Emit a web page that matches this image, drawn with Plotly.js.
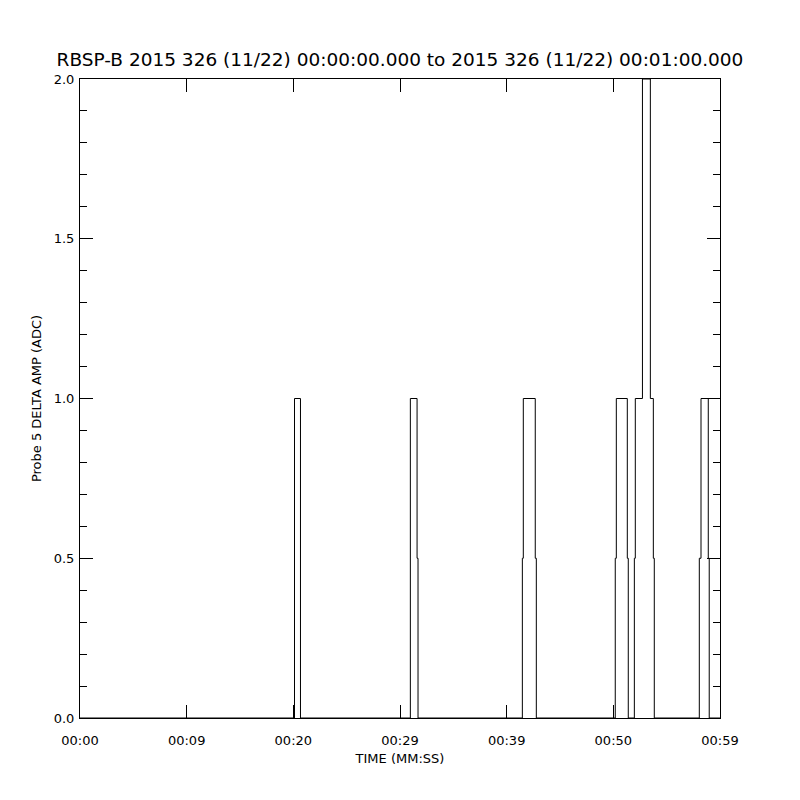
<!DOCTYPE html>
<html>
<head>
<meta charset="utf-8">
<script src="https://cdn.plot.ly/plotly-3.0.1.min.js"></script>
<style>html,body{margin:0;padding:0;background:#fff;}#chart{width:800px;height:800px;}</style>
</head>
<body>
<div id="chart"></div>
<script>
// Step edges: time in seconds from 00:00:00, value held until next edge
const times  = [0, 20.11, 20.67, 30.97, 31.60, 31.69, 41.47, 41.56, 42.68, 42.78,
                50.18, 50.28, 51.31, 51.40, 51.97, 52.06, 52.73, 53.47, 53.75, 53.84,
                58.06, 58.22, 58.90, 58.99, 60];
const values = [0, 1, 0, 1, 0.5, 0, 0.5, 1, 0.5, 0,
                0.5, 1, 0.5, 0, 0.5, 1, 2, 1, 0.5, 0,
                0.5, 1, 0.5, 0, 0];
const xTickVals = [0, 10, 20, 30, 40, 50, 60];
const xTickText = ['00:00', '00:09', '00:20', '00:29', '00:39', '00:50', '00:59'];
const yTickVals = [0, 0.5, 1.0, 1.5, 2.0];
const titleText = 'RBSP-B 2015 326 (11/22) 00:00:00.000 to 2015 326 (11/22) 00:01:00.000';
const xTitle = 'TIME (MM:SS)';
const yTitle = 'Probe 5 DELTA AMP (ADC)';

const font = 'DejaVu Sans, sans-serif';
const trace = {
  x: times, y: values, type: 'scatter', mode: 'lines',
  line: {shape: 'hv', color: '#000', width: 1},
  hoverinfo: 'skip', cliponaxis: true
};
const layout = {
  width: 800, height: 800,
  paper_bgcolor: '#fff', plot_bgcolor: '#fff',
  margin: {l: 80, r: 80, t: 79, b: 82, pad: 0},
  showlegend: false,
  font: {family: font, color: '#000', size: 13},
  title: {text: titleText, font: {family: font, size: 18.5, color: '#000'},
          x: 0.5, xanchor: 'center', xref: 'container', y: 1 - 60/800, yref: 'container', yanchor: 'middle'},
  xaxis: {
    range: [0, 60], tickvals: xTickVals, ticktext: xTickText,
    ticks: 'inside', ticklen: 13, tickwidth: 1, tickcolor: '#000',
    showline: true, linecolor: '#000', linewidth: 1, mirror: 'ticks',
    showgrid: false, zeroline: false, ticklabelstandoff: 10,
    tickfont: {family: font, size: 13, color: '#000'},
    title: {text: xTitle, font: {family: font, size: 13, color: '#000'}, standoff: 7}
  },
  yaxis: {
    range: [0, 2], tickvals: yTickVals, tickformat: '.1f',
    ticks: 'inside', ticklen: 13, tickwidth: 1, tickcolor: '#000',
    showline: true, linecolor: '#000', linewidth: 1, mirror: 'ticks',
    showgrid: false, zeroline: false, ticklabelstandoff: 2,
    minor: {dtick: 0.1, ticks: 'inside', ticklen: 7, tickwidth: 1, tickcolor: '#000', showgrid: false},
    tickfont: {family: font, size: 13, color: '#000'},
    title: {text: yTitle, font: {family: font, size: 13, color: '#000'}, standoff: 9}
  }
};
Plotly.newPlot('chart', [trace], layout, {staticPlot: true, displayModeBar: false});
</script>
</body>
</html>
